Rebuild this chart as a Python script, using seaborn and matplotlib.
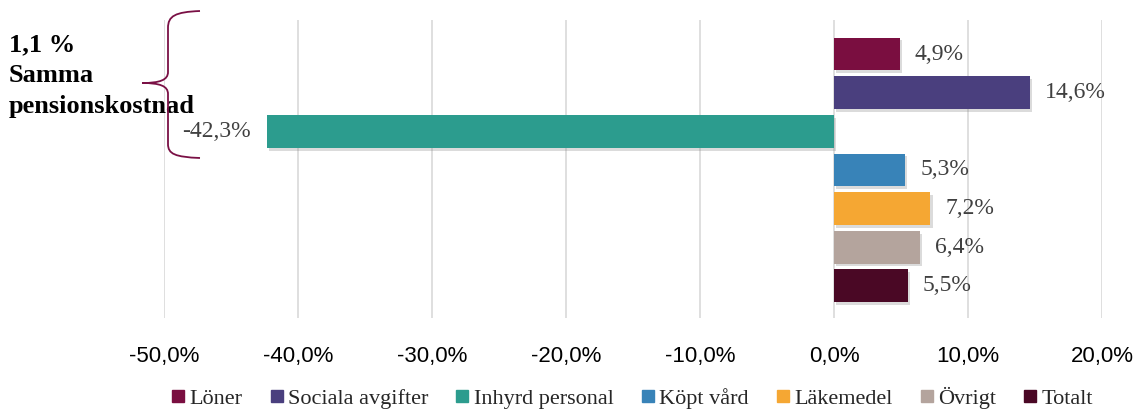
import matplotlib
matplotlib.use("Agg")
import matplotlib.pyplot as plt
import seaborn as sns
import pandas as pd
from matplotlib.path import Path
from matplotlib.patches import PathPatch
from matplotlib.lines import Line2D
import matplotlib.patheffects as pe

categories = ["Löner", "Sociala avgifter", "Inhyrd personal", "Köpt vård", "Läkemedel", "Övrigt", "Totalt"]
values = [4.9, 14.6, -42.3, 5.3, 7.2, 6.4, 5.5]
labels = ["4,9%", "14,6%", "-42,3%", "5,3%", "7,2%", "6,4%", "5,5%"]
colors = ["#7A0E40", "#4A3F7E", "#2C9C8E", "#3883B8", "#F5A733", "#B4A49D", "#4A0825"]
xticks = [-50, -40, -30, -20, -10, 0, 10, 20]
xticklabels = ["-50,0%", "-40,0%", "-30,0%", "-20,0%", "-10,0%", "0,0%", "10,0%", "20,0%"]
note_lines = ["1,1 %", "Samma", "pensionskostnad"]

sns.set_theme(style="white")
plt.rcParams["font.family"] = ["Liberation Sans Narrow", "Liberation Sans", "DejaVu Sans"]
SERIF = ["Liberation Serif", "DejaVu Serif"]

fig = plt.figure(figsize=(11.36, 4.11), dpi=100)
W, H = 1136, 411
ax = fig.add_axes([164 / W, 1 - 318 / H, (1102 - 164) / W, (318 - 20) / H])

df = pd.DataFrame({"kategori": categories, "varde": values})
sns.barplot(data=df, x="varde", y="kategori", hue="kategori", palette=colors,
            width=0.85, dodge=False, legend=False, ax=ax, zorder=3,
            saturation=1, linewidth=0)
for p in ax.patches:
    p.set_linewidth(0)
    p.set_path_effects([pe.SimplePatchShadow(offset=(1.5, -2), shadow_rgbFace="#888888", alpha=0.3),
                        pe.Normal()])

ax.set_xlim(-50, 20)
ax.set_ylim(6.83, -0.88)
ax.set_xticks(xticks)
ax.set_xticklabels(xticklabels, fontsize=16, color="#000000")
ax.tick_params(axis="x", length=0, pad=20)
ax.set_yticks([])
ax.set_xlabel("")
ax.set_ylabel("")
ax.xaxis.grid(True, color="#D9D9D9", linewidth=1.2, zorder=0)
for s in ax.spines.values():
    s.set_visible(False)

for i, (v, lab) in enumerate(zip(values, labels)):
    if v >= 0:
        ax.annotate(lab, (v, i), xytext=(11, 0), textcoords="offset points",
                    ha="left", va="center", fontsize=17, color="#404040",
                    family=SERIF)
    else:
        ax.annotate(lab, (v, i), xytext=(-12, 0), textcoords="offset points",
                    ha="right", va="center", fontsize=17, color="#404040",
                    family=SERIF)

# annotation text
for txt, y in zip(note_lines, [45, 75, 106]):
    fig.text(9 / W, 1 - y / H, txt, ha="left", va="center", fontsize=19,
             fontweight="bold", color="#000000", family=SERIF)

# curly brace (figure pixel coords converted to fractions)
def P(x, y):
    return (x / W, 1 - y / H)

verts = [P(200, 11), P(175, 12), P(168, 16), P(168, 28),
         P(168, 72),
         P(168, 80), P(160, 83), P(142, 83),
         P(160, 83), P(168, 86), P(168, 94),
         P(168, 144),
         P(168, 154), P(175, 157), P(200, 158)]
codes = [Path.MOVETO, Path.CURVE4, Path.CURVE4, Path.CURVE4,
         Path.LINETO,
         Path.CURVE4, Path.CURVE4, Path.CURVE4,
         Path.CURVE4, Path.CURVE4, Path.CURVE4,
         Path.LINETO,
         Path.CURVE4, Path.CURVE4, Path.CURVE4]
brace = PathPatch(Path(verts, codes), transform=fig.transFigure, fill=False,
                  edgecolor="#7A1045", linewidth=1.3, zorder=10)
fig.patches.append(brace)

handles = [Line2D([0], [0], marker="s", linestyle="", markersize=9,
                  markerfacecolor=c, markeredgecolor=c) for c in colors]
fig.legend(handles, categories, loc="center", bbox_to_anchor=(0.555, 1 - 398 / H),
           ncol=7, frameon=False, handletextpad=0.05,
           columnspacing=1.1, handlelength=0.9,
           prop={"family": SERIF, "size": 16})

fig.savefig("out.png", dpi=100, facecolor="white")
